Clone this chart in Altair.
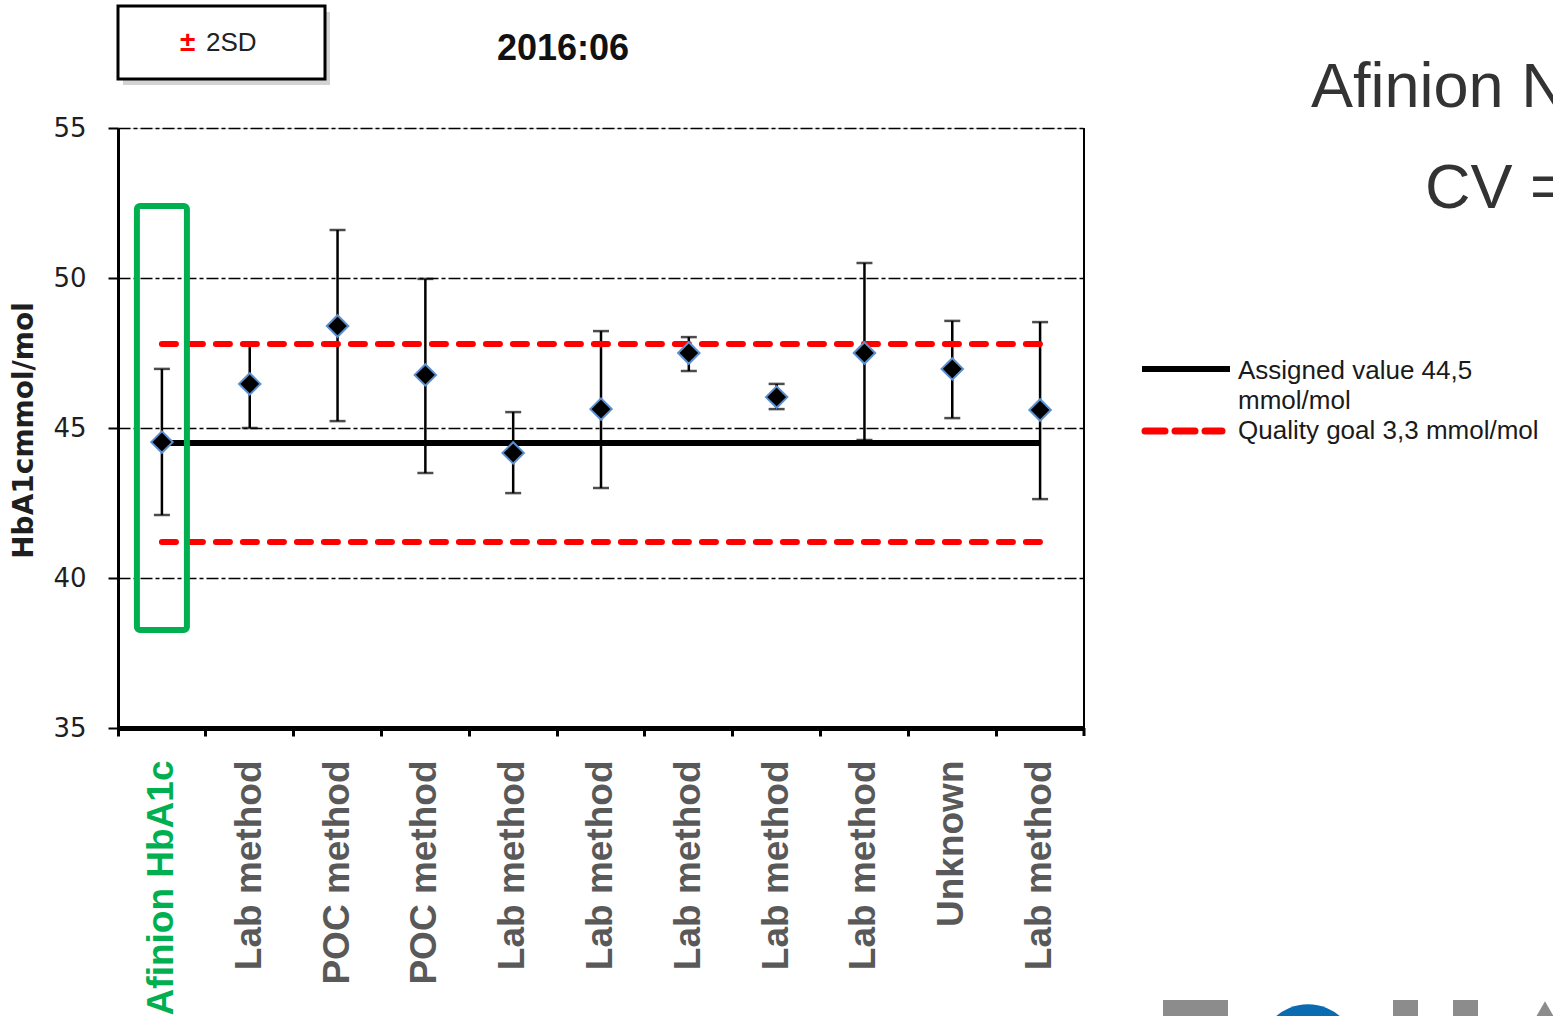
import json
import altair as alt
import pandas as pd

# ---------------- data ----------------
names = ["Afinion HbA1c", "Lab method", "POC method", "POC method", "Lab method",
         "Lab method", "Lab method", "Lab method", "Lab method", "Unknown", "Lab method"]
means = [44.53, 46.47, 48.40, 46.77, 44.17, 45.63, 47.50, 46.03, 47.50, 46.97, 45.60]
upper = [46.97, 47.77, 51.60, 49.97, 45.53, 48.23, 48.03, 46.47, 50.50, 48.57, 48.53]
lower = [42.10, 45.00, 45.23, 43.50, 42.83, 43.00, 46.90, 45.63, 44.60, 45.33, 42.63]
assigned_value = 44.5
quality_goal = 3.3
highlight_range = [38.27, 52.40]   # green box around the Afinion category
y_ticks = [35, 40, 45, 50, 55]

title_text = "2016:06"
legend_labels = ["Assigned value 44,5", "mmol/mol", "Quality goal 3,3 mmol/mol"]
side_texts = ["Afinion N", "CV ="]

df = pd.DataFrame({"idx": list(range(len(names))), "name": names,
                   "mean": means, "upper": upper, "lower": lower})
ends = pd.DataFrame({"idx": [0, len(names) - 1]})
ends["assigned"] = assigned_value
ends["hi"] = assigned_value + quality_goal
ends["lo"] = assigned_value - quality_goal
hl = pd.DataFrame({"idx": [0], "top": [highlight_range[1]], "bottom": [highlight_range[0]]})

W, H = 966, 600
label_expr = "[" + ",".join(json.dumps(n) for n in names) + "][datum.value]"

xscale = alt.Scale(type="band", domain=list(range(len(names))), paddingInner=0, paddingOuter=0)
yscale = alt.Scale(domain=[35, 55], nice=False, zero=False)

x_axis = alt.Axis(
    title=None, labelExpr=label_expr, labelAngle=-90, labelAlign="right", labelBaseline="middle",
    labelFont="Liberation Sans", labelFontWeight="bold", labelFontSize=37,
    labelColor=alt.ExprRef(expr="datum.value == 0 ? '#00b050' : '#595959'"),
    labelPadding=24, labelLimit=400, bandPosition=0,
    domainColor="black", domainWidth=5, tickColor="black", tickWidth=3, tickSize=8, grid=False,
)
y_axis = alt.Axis(
    values=y_ticks, grid=True, gridDash=[12, 3, 4, 3], gridColor="black", gridWidth=1.5,
    domainColor="black", domainWidth=3, tickColor="black", tickWidth=2, tickSize=10,
    labelFont="DejaVu Sans", labelFontSize=26, labelColor="#1f1f1f", labelPadding=22,
    title="HbA1cmmol/mol", titleFont="DejaVu Sans", titleFontWeight="bold", titleFontSize=28,
    titleColor="#1f1f1f", titleAngle=-90, titleX=-94, titleY=302, titleAlign="center",
    titleBaseline="middle",
)

X = alt.X("idx:O", scale=xscale, axis=x_axis)
base = alt.Chart(df)

errbar = base.mark_rule(color="black", strokeWidth=2.5).encode(
    x=X, y=alt.Y("lower:Q", scale=yscale, axis=y_axis), y2="upper:Q")
cap_hi = base.mark_tick(color="black", thickness=2.5, size=16).encode(x=X, y=alt.Y("upper:Q", scale=yscale))
cap_lo = base.mark_tick(color="black", thickness=2.5, size=16).encode(x=X, y=alt.Y("lower:Q", scale=yscale))

assigned_line = alt.Chart(ends).mark_line(color="black", strokeWidth=6).encode(
    x=X, y=alt.Y("assigned:Q", scale=yscale))
hi_line = alt.Chart(ends).mark_line(color="#ff0000", strokeWidth=6, strokeDash=[14, 13], strokeCap="round").encode(
    x=X, y=alt.Y("hi:Q", scale=yscale))
lo_line = alt.Chart(ends).mark_line(color="#ff0000", strokeWidth=6, strokeDash=[14, 13], strokeCap="round").encode(
    x=X, y=alt.Y("lo:Q", scale=yscale))

points = base.mark_point(shape="diamond", filled=True, fill="black", stroke="#5b8fd0",
                         strokeWidth=2, size=460, opacity=1).encode(
    x=X, y=alt.Y("mean:Q", scale=yscale))

highlight = alt.Chart(hl).mark_bar(size=50, fillOpacity=0, stroke="#00b050", strokeWidth=6,
                                   cornerRadius=3).encode(
    x=X, y=alt.Y("top:Q", scale=yscale), y2="bottom:Q")

one = pd.DataFrame({"a": [1]})


def rule(x, x2, y, y2, **kw):
    return alt.Chart(one).mark_rule(**kw).encode(
        x=alt.value(x), x2=alt.value(x2), y=alt.value(y), y2=alt.value(y2))


def txt(s, x, y, **kw):
    return alt.Chart(pd.DataFrame({"t": [s]})).mark_text(**kw).encode(
        x=alt.value(x), y=alt.value(y), text="t:N")


right_border = rule(W, W, 0, H, color="black", strokeWidth=2)
end_tick = rule(W, W, H, H + 8, color="black", strokeWidth=3)

# "± 2SD" box at top-left
box_shadow = alt.Chart(one).mark_rect(fill="#b5b5b5", opacity=0.6).encode(
    x=alt.value(5), x2=alt.value(212), y=alt.value(-116), y2=alt.value(-43))
box = alt.Chart(one).mark_rect(fill="white", stroke="black", strokeWidth=3).encode(
    x=alt.value(0), x2=alt.value(207), y=alt.value(-122), y2=alt.value(-49))
pm = txt("±", 62, -85, align="left", baseline="middle", font="Liberation Sans", fontSize=28,
         fontWeight="bold", color="#ff0000")
sd = txt("2SD", 88, -85, align="left", baseline="middle", font="Liberation Sans", fontSize=26, color="#222222")

title = txt(title_text, 445, -79, align="center", baseline="middle", font="Liberation Sans",
            fontWeight="bold", fontSize=36, color="#111111")

# legend on the right
leg_line = rule(1024, 1112, 241, 241, color="black", strokeWidth=6)
leg_dash = rule(1027, 1104, 303, 303, color="#ff0000", strokeWidth=7, strokeDash=[20, 10], strokeCap="round")
leg_t1 = txt(legend_labels[0], 1120, 243, align="left", baseline="middle", font="Liberation Sans",
             fontSize=26, color="#1a1a1a")
leg_t2 = txt(legend_labels[1], 1120, 273, align="left", baseline="middle", font="Liberation Sans",
             fontSize=26, color="#1a1a1a")
leg_t3 = txt(legend_labels[2], 1120, 303, align="left", baseline="middle", font="Liberation Sans",
             fontSize=26, color="#1a1a1a")

side1 = txt(side_texts[0], 1193, -21, align="left", baseline="alphabetic", font="Liberation Sans",
            fontSize=63, color="#333333")
side2 = txt(side_texts[1], 1307, 80, align="left", baseline="alphabetic", font="Liberation Sans",
            fontSize=63, color="#333333")

# partial logo bottom-right
logo_r1 = alt.Chart(one).mark_rect(fill="#8c8c8c").encode(
    x=alt.value(1045), x2=alt.value(1110), y=alt.value(872), y2=alt.value(890))
logo_c = alt.Chart(one).mark_point(shape="circle", filled=True, fill="#0a6bb0", size=9500, opacity=1).encode(
    x=alt.value(1190), y=alt.value(925))
logo_r2 = alt.Chart(one).mark_rect(fill="#8c8c8c").encode(
    x=alt.value(1275), x2=alt.value(1300), y=alt.value(872), y2=alt.value(890))
logo_r3 = alt.Chart(one).mark_rect(fill="#8c8c8c").encode(
    x=alt.value(1335), x2=alt.value(1360), y=alt.value(872), y2=alt.value(890))
logo_t = alt.Chart(one).mark_point(shape="triangle-up", filled=True, fill="#8c8c8c", size=2500, opacity=1).encode(
    x=alt.value(1427), y=alt.value(895))

chart = alt.layer(
    errbar, cap_hi, cap_lo, assigned_line, hi_line, lo_line, points, highlight,
    right_border, end_tick, box_shadow, box, pm, sd, title,
    leg_line, leg_dash, leg_t1, leg_t2, leg_t3, side1, side2,
    logo_r1, logo_c, logo_r2, logo_r3, logo_t,
).properties(
    width=W, height=H,
    padding={"left": 118, "top": 128, "right": 1553 - 118 - W, "bottom": 1016 - 128 - H},
    autosize=alt.AutoSizeParams(type="none"),
).configure_view(stroke=None).configure(background="white")

chart.save("out.html", embed_options={"renderer": "svg", "actions": False})
